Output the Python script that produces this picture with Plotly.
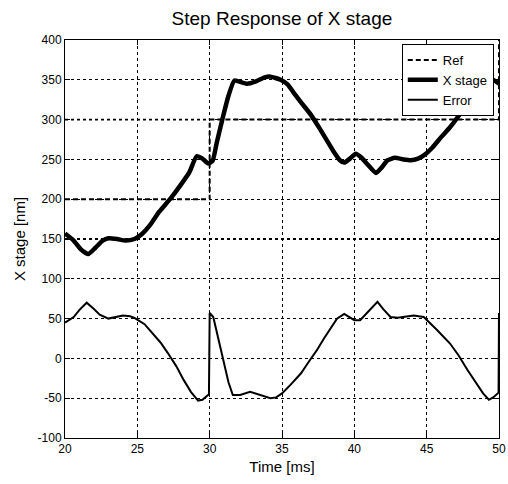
import plotly.graph_objects as go

# ---- data ----
x_t = [20.0, 20.6, 21.1, 21.6, 22.1, 22.6, 23.0, 23.6, 24.2, 24.8, 25.3, 25.9, 26.5, 27.3, 28.0,
       28.6, 29.1, 29.5, 29.9, 30.2, 30.5, 30.9, 31.3, 31.7, 32.0, 32.6, 33.2, 33.8, 34.2, 34.9,
       35.4, 35.8, 36.3, 37.0, 37.6, 38.1, 38.6, 39.0, 39.3, 39.7, 40.1, 40.5, 40.9, 41.5, 41.9,
       42.3, 42.8, 43.4, 43.9, 44.4, 44.8, 45.4, 46.0, 46.6, 47.1, 47.8, 48.5, 49.0, 49.4, 50.0]
x_stage = [157, 148, 137, 131, 139, 148, 151, 150, 148, 150, 156, 168, 184, 201, 218,
           234, 254, 251, 245, 248, 272, 302, 330, 349, 348, 345, 348, 353, 354, 350,
           344, 334, 322, 306, 289, 274, 259, 249, 246, 251, 257, 252, 244, 233, 240,
           249, 252, 250, 249, 251, 255, 265, 278, 290, 302, 321, 340, 352, 352, 345]

err_t = [20.0, 20.6, 21.0, 21.5, 22.0, 22.4, 23.0, 23.5, 24.0, 24.5, 24.8, 25.5, 26.1, 26.6, 27.1,
         27.7, 28.2, 28.7, 29.2, 29.5, 29.95, 30.0, 30.25, 30.6, 30.9, 31.3, 31.6, 32.1, 32.8, 33.5,
         34.2, 34.6, 35.0, 35.6, 36.3, 36.9, 37.4, 37.9, 38.3, 38.8, 39.3, 39.7, 40.0, 40.4, 41.0,
         41.6, 42.0, 42.5, 43.0, 43.4, 44.1, 44.8, 45.2, 45.7, 46.6, 47.2, 47.8, 48.4, 48.9, 49.3,
         49.6, 49.97, 50.0]
error = [45, 52, 61, 70, 62, 55, 50, 52, 54, 53, 51, 43, 30, 20, 7,
         -10, -27, -42, -53, -52, -45, 57, 52, 25, -2, -30, -46, -46, -42, -46,
         -50, -49, -44, -33, -19, -3, 10, 25, 36, 50, 56, 51, 48, 48, 60,
         71, 62, 52, 51, 52, 54, 52, 45, 36, 19, 4, -14, -30, -44, -52,
         -49, -43, 57]

ref_t = [20, 30, 30, 50, 50]
ref = [200, 200, 300, 300, 400]
ref_extra_t = [20, 50, None, 20, 30]
ref_extra = [150, 150, None, 300, 300]

x_ticks = [20, 25, 30, 35, 40, 45, 50]
y_ticks = [-100, -50, 0, 50, 100, 150, 200, 250, 300, 350, 400]

FONT = "Liberation Sans, Arial, sans-serif"

fig = go.Figure()
fig.add_trace(go.Scatter(x=ref_extra_t, y=ref_extra, mode="lines", showlegend=False,
                         line=dict(color="black", width=1.8, dash="3px,3px"), hoverinfo="skip"))
fig.add_trace(go.Scatter(x=ref_t, y=ref, mode="lines", name="Ref",
                         line=dict(color="black", width=2, dash="5px,3px")))
fig.add_trace(go.Scatter(x=x_t, y=x_stage, mode="lines", name="X stage",
                         line=dict(color="black", width=4.5, shape="spline", smoothing=0.5)))
fig.add_trace(go.Scatter(x=err_t, y=error, mode="lines", name="Error",
                         line=dict(color="black", width=2)))

axis_common = dict(showline=True, linecolor="black", linewidth=1, mirror="ticks",
                   ticks="inside", ticklen=5, tickcolor="black", automargin=False,
                   showgrid=True, gridcolor="black", gridwidth=1, griddash="3px,3px",
                   zeroline=False, tickfont=dict(family=FONT, size=12, color="black"))

fig.update_xaxes(range=[20, 50], tickvals=x_ticks, ticktext=[str(v) for v in x_ticks],
                 title=dict(text="Time [ms]", font=dict(family=FONT, size=15, color="black"), standoff=6),
                 **axis_common)
fig.update_yaxes(range=[-100, 400], tickvals=y_ticks, ticktext=[str(v) for v in y_ticks],
                 title=dict(text="X stage [nm]", font=dict(family=FONT, size=15, color="black"), standoff=8),
                 **axis_common)

fig.update_layout(
    width=508, height=484,
    margin=dict(l=65, r=9, t=40, b=46),
    paper_bgcolor="white", plot_bgcolor="white",
    title=dict(text="Step Response of X stage", x=0.555, xanchor="center", y=0.963, yanchor="middle",
               font=dict(family=FONT, size=19, color="black")),
    legend=dict(x=0.988, y=0.99, xanchor="right", yanchor="top", bgcolor="white",
                bordercolor="black", borderwidth=1, font=dict(family=FONT, size=13, color="black"),
                tracegroupgap=0, itemwidth=30),
    showlegend=True,
)

fig.write_html("out.html")
